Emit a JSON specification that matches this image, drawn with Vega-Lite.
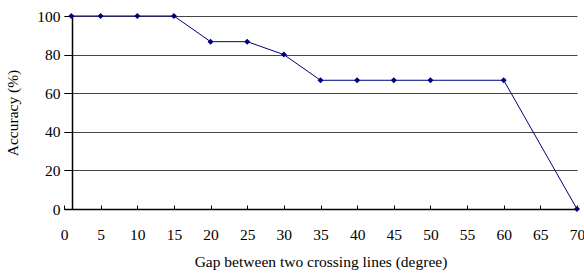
{
  "$schema": "https://vega.github.io/schema/vega-lite/v6.json",
  "autosize": "none",
  "width": 513,
  "height": 193,
  "padding": {"left": 64, "top": 16, "right": 7, "bottom": 67},
  "background": "white",
  "config": {
    "view": {"stroke": null},
    "font": "Liberation Serif",
    "axis": {
      "labelFont": "Liberation Serif",
      "titleFont": "Liberation Serif",
      "labelFontSize": 15.5,
      "titleFontSize": 15.5,
      "titleFontWeight": "normal",
      "labelColor": "black",
      "titleColor": "black",
      "domainColor": "black",
      "tickColor": "black"
    }
  },
  "data": {
    "values": [
      {"gap": 1, "accuracy": 100},
      {"gap": 5, "accuracy": 100},
      {"gap": 10, "accuracy": 100},
      {"gap": 15, "accuracy": 100},
      {"gap": 20, "accuracy": 86.7},
      {"gap": 25, "accuracy": 86.7},
      {"gap": 30, "accuracy": 80},
      {"gap": 35, "accuracy": 66.7},
      {"gap": 40, "accuracy": 66.7},
      {"gap": 45, "accuracy": 66.7},
      {"gap": 50, "accuracy": 66.7},
      {"gap": 60, "accuracy": 66.7},
      {"gap": 70, "accuracy": 0}
    ]
  },
  "mark": {"type": "line", "color": "#000080", "strokeWidth": 1, "point": {"shape": "diamond", "filled": true, "size": 36, "color": "#000080"}},
  "encoding": {
    "x": {
      "field": "gap",
      "type": "quantitative",
      "title": "Gap between two crossing lines (degree)",
      "scale": {"domain": [0, 70], "nice": false, "zero": false},
      "axis": {"values": [0,5,10,15,20,25,30,35,40,45,50,55,60,65,70], "grid": false, "tickSize": -4, "labelPadding": 22, "titlePadding": 12, "labelFlush": false, "domainWidth": 1.5}
    },
    "y": {
      "field": "accuracy",
      "type": "quantitative",
      "title": "Accuracy (%)",
      "scale": {"domain": [0, 100], "nice": false},
      "axis": {"values": [0,20,40,60,80,100], "offset": -8, "tickSize": 8, "labelPadding": 4, "titlePadding": 16, "grid": true, "gridColor": "#444", "gridWidth": 1, "gridOpacity": 1, "domainWidth": 1.5}
    }
  }
}
